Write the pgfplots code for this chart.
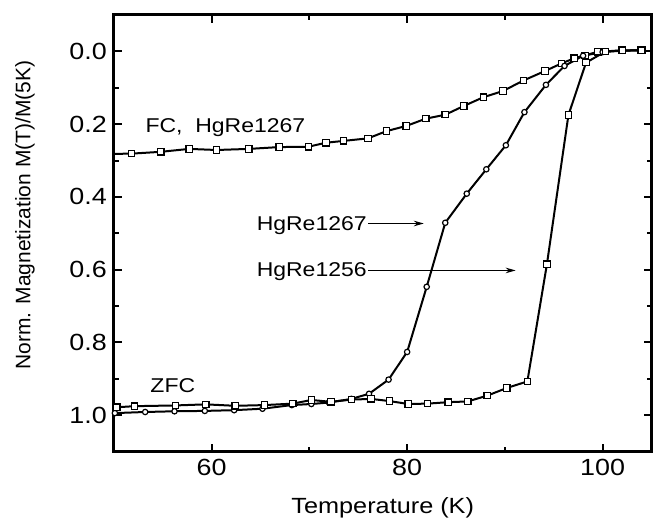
\documentclass[border=0pt]{standalone}
\usepackage{pgfplots}
\pgfplotsset{compat=1.18}
\usepackage{fontspec}
\setmainfont{Liberation Sans}[FakeStretch=1.15]
\newfontfamily\ylabfont{Liberation Sans}
\usetikzlibrary{arrows.meta}

\pgfplotstableread{
T M
49 0.282
51.8 0.281
54.8 0.276
57.7 0.268
60.5 0.271
63.8 0.268
66.9 0.263
69.9 0.262
71.7 0.251
73.5 0.246
76.0 0.239
77.9 0.219
79.9 0.205
81.9 0.185
83.9 0.174
85.8 0.150
87.8 0.126
89.8 0.109
91.9 0.080
94.1 0.054
95.8 0.033
97.1 0.019
98.2 0.011
99.5 0.001
100.3 0.0
102.0 -0.003
103.9 -0.003
}\fcdata

\pgfplotstableread{
T M
50.1 0.994
53.2 0.991
56.2 0.989
59.3 0.988
62.3 0.986
65.2 0.982
68.2 0.972
70.2 0.969
72.0 0.965
74.3 0.955
76.1 0.941
78.1 0.902
80.0 0.826
82.0 0.647
83.9 0.471
86.1 0.391
88.1 0.324
90.1 0.258
92.0 0.167
94.2 0.092
96.1 0.040
98.0 0.012
100.0 0.002
102.0 -0.002
104.0 -0.003
}\zfcA

\pgfplotstableread{
T M
50.3 0.978
52.1 0.975
56.3 0.973
59.4 0.970
62.4 0.974
65.4 0.972
68.3 0.968
70.2 0.958
72.2 0.963
74.3 0.957
76.3 0.955
78.2 0.961
80.1 0.969
82.1 0.968
84.2 0.964
86.2 0.962
88.2 0.946
90.2 0.925
92.3 0.907
94.3 0.585
96.5 0.175
98.3 0.031
100.3 0.0
102.0 -0.002
104.0 -0.003
}\zfcB

\begin{document}
\begin{tikzpicture}
\begin{axis}[
    scale only axis,
    width=269pt, height=218.5pt,
    xmin=50, xmax=105,
    ymin=-0.1, ymax=1.1,
    y dir=reverse,
    font=\fontsize{11.7}{13}\selectfont,
    xtick={60,80,100},
    minor xtick={70,90},
    ytick={0,0.2,0.4,0.6,0.8,1.0},
    minor ytick={0.1,0.3,0.5,0.7,0.9},
    yticklabel style={/pgf/number format/.cd,fixed,fixed zerofill,precision=1},
    /pgf/number format/assume math mode=true,
    tick align=inside,
    major tick length=4pt,
    minor tick length=2.5pt,
    tick style={black, line width=1pt},
    axis line style={line width=1.5pt},
    xlabel={Temperature (K)},
    ylabel={\ylabfont\fontsize{10.5}{12}\selectfont Norm. Magnetization M(T)/M(5K)},
    xlabel style={at={(axis description cs:0.5,-0.128)}, anchor=center, font=\fontsize{11}{13}\selectfont},
    ylabel style={at={(axis description cs:-0.1654,0.542)}, anchor=center},
    every axis plot/.append style={black, line width=1pt},
]
\addplot[mark=square*, mark size=1.6pt, mark options={fill=white, line width=0.6pt}] table[x=T,y=M] {\fcdata};
\addplot[mark=*, mark size=1.35pt, mark options={fill=white, line width=0.6pt}] table[x=T,y=M] {\zfcA};
\addplot[mark=square*, mark size=1.6pt, mark options={fill=white, line width=0.6pt}] table[x=T,y=M] {\zfcB};

\tikzset{annot/.style={font=\fontsize{10}{12}\selectfont, inner sep=0pt}}
\node[anchor=base west, annot] at (axis cs:53.2,0.222) {FC,\ \ HgRe1267};
\node[anchor=base west, annot] at (axis cs:53.7,0.938) {ZFC};
\node[anchor=base east, annot] at (axis cs:75.9,0.491) {HgRe1267};
\node[anchor=base east, annot] at (axis cs:75.9,0.619) {HgRe1256};
\draw[line width=0.5pt, -{Stealth[length=5pt,width=2.8pt]}] (axis cs:76.0,0.473) -- (axis cs:81.7,0.473);
\draw[line width=0.5pt, -{Stealth[length=5pt,width=2.8pt]}] (axis cs:76.0,0.602) -- (axis cs:91.1,0.602);
\end{axis}
\path ([xshift=-57pt,yshift=-34.5pt]current axis.south west) rectangle ([yshift=7.5pt]current axis.north east);
\end{tikzpicture}
\end{document}
